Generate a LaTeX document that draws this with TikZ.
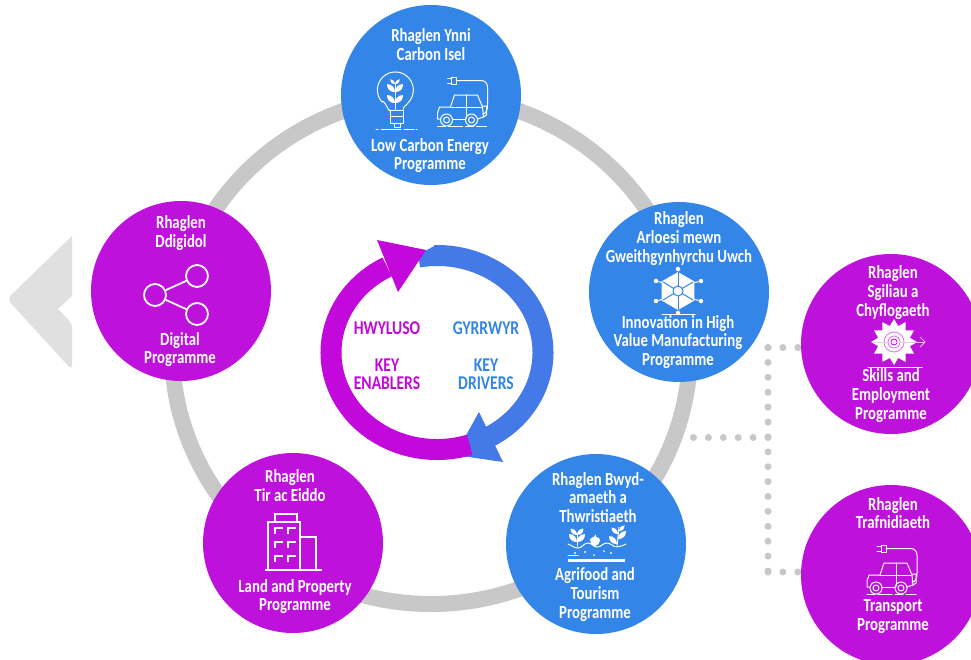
\documentclass[tikz,border=0pt]{standalone}
\usepackage{fontspec}
\setmainfont[FakeStretch=0.8]{Carlito}
\usetikzlibrary{shapes.geometric}
\definecolor{progblue}{HTML}{3385E8}
\definecolor{progpurple}{HTML}{BE12DC}
\definecolor{arcblue}{HTML}{4479E8}
\definecolor{arcpurple}{HTML}{C208DA}
\definecolor{ringgrey}{HTML}{C8C8C8}
\definecolor{backgrey}{HTML}{E0E0E0}
\tikzset{
  prog/.style={circle,minimum size=180pt,inner sep=0pt},
  blueprog/.style={prog,fill=progblue},
  purpleprog/.style={prog,fill=progpurple},
  words/.style={align=center,inner sep=0pt,text=white,font=\bfseries\fontsize{18.5}{18.7}\selectfont},
  keywords/.style={align=center,inner sep=0pt,font=\bfseries\fontsize{19.5}{18.5}\selectfont},
  iconline/.style={draw=white,line width=1pt,line join=round,line cap=round},
  thickicon/.style={draw=white,line width=1.8pt,line join=miter},
  dotline/.style={draw=ringgrey,line width=7pt,line cap=round,dash pattern=on 0pt off 14.9pt},
  hexdot/.style={circle,fill=white,minimum size=4.5pt,inner sep=0pt},
  sharering/.style={circle,draw=white,line width=1.8pt,minimum size=22pt,inner sep=0pt},
  caricon/.pic={
    \draw[iconline] (-10,-32) rectangle (-5,-25);
    \draw[iconline] (-14,-31) to (-10,-31);
    \draw[iconline] (-14,-26) to (-10,-26);
    \draw[iconline] (-5,-28.5) to (20,-28.5) to[out=0,in=90] (26,-22) to (26,-4) to[out=-90,in=0] (21,5);
    \draw[iconline] (-11,-2) to (-7,-14) to (16,-14) to (21,-2) to (22,8) to (16,10);
    \draw[iconline] (21,-3) to (25,-3) to (25,6) to (22,8);
    \draw[iconline] (-11,-2) to (-22,-2) to (-24,4) to (-24,10) to (-21,10);
    \draw[iconline] (-9,10) to (4,10);
    \draw[iconline] (-11,-2) to (20,-2);
    \draw[iconline] (5,-14) to (5,9);
    \draw[iconline] (-15,11) circle (6pt);
    \draw[iconline] (-15,11) circle (3pt);
    \draw[iconline] (10,11) circle (6pt);
    \draw[iconline] (10,11) circle (3pt);
    \draw[iconline,dash pattern=on 8pt off 3pt on 14pt off 3pt] (-24,17) to (25,17);
  },
  leafl/.pic={
    \fill[white] (0,0) .. controls (-7,0) and (-8,-5) .. (-8,-8) .. controls (-3,-8) and (0,-4) .. (0,0);
  },
  leafr/.pic={
    \fill[white] (0,0) .. controls (7,0) and (8,-5) .. (8,-8) .. controls (3,-8) and (0,-4) .. (0,0);
  }
}
\begin{document}
\begin{tikzpicture}[x=1pt,y=-1pt]
  \clip (0,0) rectangle (971,659);
  \fill[white] (0,0) rectangle (971,659);
  \coordinate (ringc) at (431,350);
  \coordinate (arcc) at (437,352.5);
  \coordinate (dottop) at (768,347.5);
  \coordinate (dotmid) at (768,437.5);
  \coordinate (dotbot) at (768,572);
  \coordinate (dotring) at (690,437.5);
  \draw[ringgrey,line width=16pt] (ringc) circle [x radius=259pt,y radius=254pt];
  \fill[backgrey,rounded corners=5pt] (72,236) -- (7,299) -- (72,370) -- (72,323) [sharp corners] -- (58,309) -- (72,296) -- cycle;
  \begin{scope}[dotline]
    \draw (dottop) to (dotbot);
    \draw (dotmid) to (dotring);
    \draw (dottop) to (810,347.5);
    \draw (dotbot) to (810,572);
  \end{scope}
  \draw[arcblue,line width=21pt] ([shift=(100:106pt and 97pt)]arcc) arc [start angle=100,end angle=-70,x radius=106pt,y radius=97pt];
  \fill[white] (426.5,250) -- (434,246) -- (434,235) -- (400,235) -- (400,262) -- cycle;
  \fill[arcblue] (479,412) -- (503,462) -- (455,455) -- cycle;
  \draw[arcpurple,line width=21pt] ([shift=(-72:106pt and 97pt)]arcc) arc [start angle=-72,end angle=-242,x radius=106pt,y radius=97pt];
  \fill[arcpurple] (377,240) -- (426,250) -- (398,292) -- cycle;
  \draw
    (431,95) node[blueprog] (lowcarbon){}
    (679,292) node[blueprog] (innovation){}
    (596,544) node[blueprog] (agrifood){}
    (293,543) node[purpleprog] (land){}
    (181,291) node[purpleprog] (digital){}
    (891,344) node[purpleprog] (skills){}
    (891,575) node[purpleprog] (transport){};
  \draw
    (431,44.5) node[words] (lowcarbontop){Rhaglen Ynni\\Carbon Isel}
    (430,155.5) node[words] (lowcarbonbot){Low Carbon Energy\\Programme}
    (679,238.5) node[words] (innovationtop){Rhaglen\\Arloesi mewn\\Gweithgynhyrchu Uwch}
    (678,342) node[words] (innovationbot){Innovation in High\\Value Manufacturing\\Programme}
    (598,497.5) node[words] (agrifoodtop){Rhaglen Bwyd-\\amaeth a\\Thwristiaeth}
    (595,594.5) node[words] (agrifoodbot){Agrifood and\\Tourism\\Programme}
    (290,485.5) node[words] (landtop){Rhaglen\\Tir ac Eiddo}
    (295,596.5) node[words] (landbot){Land and Property\\Programme}
    (181,233) node[words] (digitaltop){Rhaglen\\Ddigidol}
    (180,349.5) node[words] (digitalbot){Digital\\Programme}
    (893,292.5) node[words] (skillstop){Rhaglen\\Sgiliau a\\Chyflogaeth}
    (891,395.5) node[words] (skillsbot){Skills and\\Employment\\Programme}
    (893,513) node[words] (transporttop){Rhaglen\\Trafnidiaeth}
    (893,616.5) node[words] (transportbot){Transport\\Programme}
    (387,328) node[keywords,text=arcpurple] (enablerswelsh){HWYLUSO}
    (387,374) node[keywords,text=arcpurple] (enablers){KEY\\ENABLERS}
    (486,328) node[keywords,text=progblue] (driverswelsh){GYRRWYR}
    (486,374) node[keywords,text=progblue] (drivers){KEY\\DRIVERS};
  \path (461.5,109) pic {caricon};
  \path (891,577) pic {caricon};
  \begin{scope}[iconline]
    \draw (390,110) to[out=-95,in=60] (382,102) arc [start angle=222,end angle=-42,radius=18pt] to[out=-120,in=90] (403,110);
    \draw (390,110) rectangle (403,123);
    \draw (390,116) to (403,116);
    \draw (394,123) to (394,127) to (400,127) to (400,123);
    \draw (395,110) to (395,84);
    \path (395,92) pic {leafl};
    \path (395,92) pic {leafr};
    \path (395,103) pic {leafl};
    \path (395,103) pic {leafr};
    \path (395,84) pic[scale=0.6] {leafl};
    \path (395,84) pic[scale=0.6] {leafr};
    \draw[dash pattern=on 2pt off 3pt on 20pt off 3pt on 10pt] (376,129) to (417,129);
  \end{scope}
  \begin{scope}[iconline]
    \node[hexdot] (hexn) at (678,269) {};
    \node[hexdot] (hexne) at (701,281) {};
    \node[hexdot] (hexse) at (701,301) {};
    \node[hexdot] (hexs) at (678,313) {};
    \node[hexdot] (hexsw) at (656,301) {};
    \node[hexdot] (hexnw) at (656,281) {};
    \draw (hexn) to (678,276);
    \draw (hexne) to (693,283);
    \draw (hexse) to (693,299);
    \draw (hexs) to (678,308);
    \draw (hexsw) to (664,299);
    \draw (hexnw) to (664,283);
    \node[regular polygon,regular polygon sides=6,shape border rotate=30,fill=white,minimum size=38pt,inner sep=0pt] (hexcore) at (678,291) {};
    \draw[progblue] (678,272) to (678,310);
    \draw[progblue] (663,282) to (693,300);
    \draw[progblue] (693,282) to (663,300);
    \draw[progblue,fill=white] (678,291) circle (5pt);
    \draw (662,314) to (695,314);
  \end{scope}
  \begin{scope}[iconline]
    \draw (568,544) to[out=-20,in=180] (578,548) to[out=0,in=180] (588,543) to[out=0,in=180] (597,547) to[out=0,in=180] (607,543) to[out=0,in=180] (617,547) to[out=0,in=200] (626,544);
    \fill[white] (568,558.5) rectangle (625,562);
    \draw (577,546) to (577,533);
    \path (577,542) pic {leafl};
    \path (577,542) pic {leafr};
    \path (577,535) pic[scale=0.8] {leafl};
    \path (577,535) pic[scale=0.8] {leafr};
    \draw (595,546) to (595,535);
    \fill[white] (595,546) to[out=170,in=-90] (590,540) to[out=90,in=-90] (595,535) to[out=-90,in=90] (600,540) to[out=-90,in=10] (595,546);
    \draw (617,546) to (619,527);
    \path (617,544) pic {leafl};
    \path (618,539) pic {leafr};
    \path (618,534) pic[scale=0.8] {leafl};
    \path (619,531) pic[scale=0.7] {leafr};
    \fill[white] (575,553) circle (1.2pt);
    \fill[white] (585,552) circle (1.2pt);
    \fill[white] (594,555) circle (1pt);
    \fill[white] (611,553) circle (1.2pt);
    \fill[white] (604,551) circle (1pt);
    \draw (568,555) to (578,555);
  \end{scope}
  \begin{scope}[thickicon]
    \node[sharering] (sharel) at (155,295) {};
    \node[sharering] (sharet) at (197,276) {};
    \node[sharering] (shareb) at (197,314) {};
    \draw (sharel) to (sharet);
    \draw (sharel) to (shareb);
    \draw (268,570) to (268,522) to (300,522) to (300,570);
    \draw (275,522) to (275,514) to (297,514) to (297,522);
    \draw (300,537) to (316,537) to (316,570);
    \draw (265,570) to (322,570);
    \draw (275,534) to (275,528) to (283,528);
    \draw (288,534) to (288,528) to (296,528);
    \draw (275,548) to (275,542) to (283,542);
    \draw (288,548) to (288,542) to (296,542);
    \draw (275,562) to (275,556) to (283,556);
    \draw (288,562) to (288,556) to (296,556);
  \end{scope}
  \node[star,star points=12,star point ratio=1.4,fill=white,minimum size=46pt,inner sep=0pt] (skillsgear) at (894,342) {};
  \draw[progpurple!55!white,line width=0.9pt] (skillsgear.center) circle (10pt);
  \draw[progpurple!55!white,line width=0.9pt] (skillsgear.center) circle (6pt);
  \draw[progpurple,line width=0.9pt] (skillsgear.center) circle (3pt);
  \draw[progpurple!25!white,line width=0.9pt] (873,342) to (925,342);
  \draw[progpurple!25!white,line width=0.9pt] (920,337) to (925,342) to (920,347);
  \draw[iconline] (868,367) to (922,367);
\end{tikzpicture}
\end{document}
